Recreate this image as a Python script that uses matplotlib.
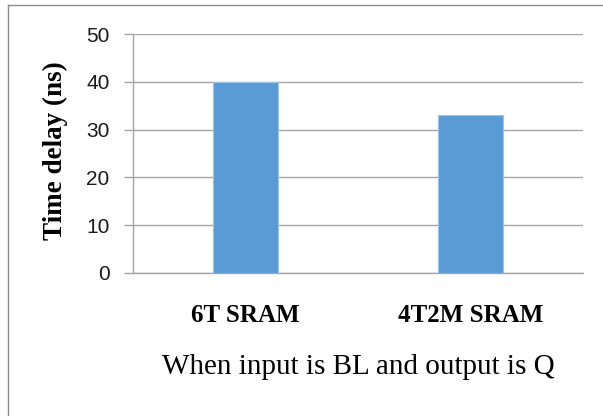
import matplotlib
matplotlib.use("Agg")
import matplotlib.pyplot as plt
from matplotlib.lines import Line2D

categories = ["6T SRAM", "4T2M SRAM"]
delays = [40, 33]
yticks = [0, 10, 20, 30, 40, 50]
ylabel = "Time delay (ns)"
xlabel = "When input is BL and output is Q"

W, H = 603, 416
fig = plt.figure(figsize=(W / 100, H / 100), dpi=100)
ax = fig.add_axes([133 / W, 1 - 273 / H, 450 / W, 239 / H])

x = list(range(len(categories)))
ax.bar(x, delays, width=0.285, color="#5B9BD5", edgecolor="#9DC3E6", linewidth=0.8, zorder=3)
ax.set_xlim(-0.5, len(categories) - 0.5)
ax.set_ylim(0, 50)
ax.set_yticks(yticks)
ax.set_yticklabels([str(v) for v in yticks], fontsize=15, family="Liberation Sans", color="#1a1a1a")
ax.tick_params(axis="y", length=6.5, width=1.0, color="#A6A6A6", pad=10.5)
ax.grid(axis="y", color="#A6A6A6", linewidth=1.0, zorder=0)
ax.set_xticks(x)
ax.set_xticklabels(categories, fontsize=18, family="Liberation Serif", fontweight="bold")
ax.tick_params(axis="x", length=0, pad=22)

for s in ["top", "right"]:
    ax.spines[s].set_visible(False)
ax.spines["left"].set_color("#A6A6A6")
ax.spines["bottom"].set_color("#A6A6A6")
ax.spines["left"].set_linewidth(1.0)
ax.spines["bottom"].set_linewidth(1.0)

ax.set_ylabel(ylabel, fontsize=19.5, family="Liberation Serif", fontweight="bold")
ax.yaxis.set_label_coords(-0.173, 0.51)
ax.yaxis.label.set_va("center")
ax.set_xlabel(xlabel, fontsize=21, family="Liberation Serif")
ax.xaxis.set_label_coords(0.5, -0.395)
ax.xaxis.label.set_va("center")

fig.add_artist(Line2D([7.5 / W, 1], [1 - 4.5 / H, 1 - 4.5 / H], transform=fig.transFigure, color="#8C8C8C", linewidth=1.0))
fig.add_artist(Line2D([7.5 / W, 7.5 / W], [0, 1 - 4.5 / H], transform=fig.transFigure, color="#8C8C8C", linewidth=1.0))

fig.savefig("out.png", dpi=100)
